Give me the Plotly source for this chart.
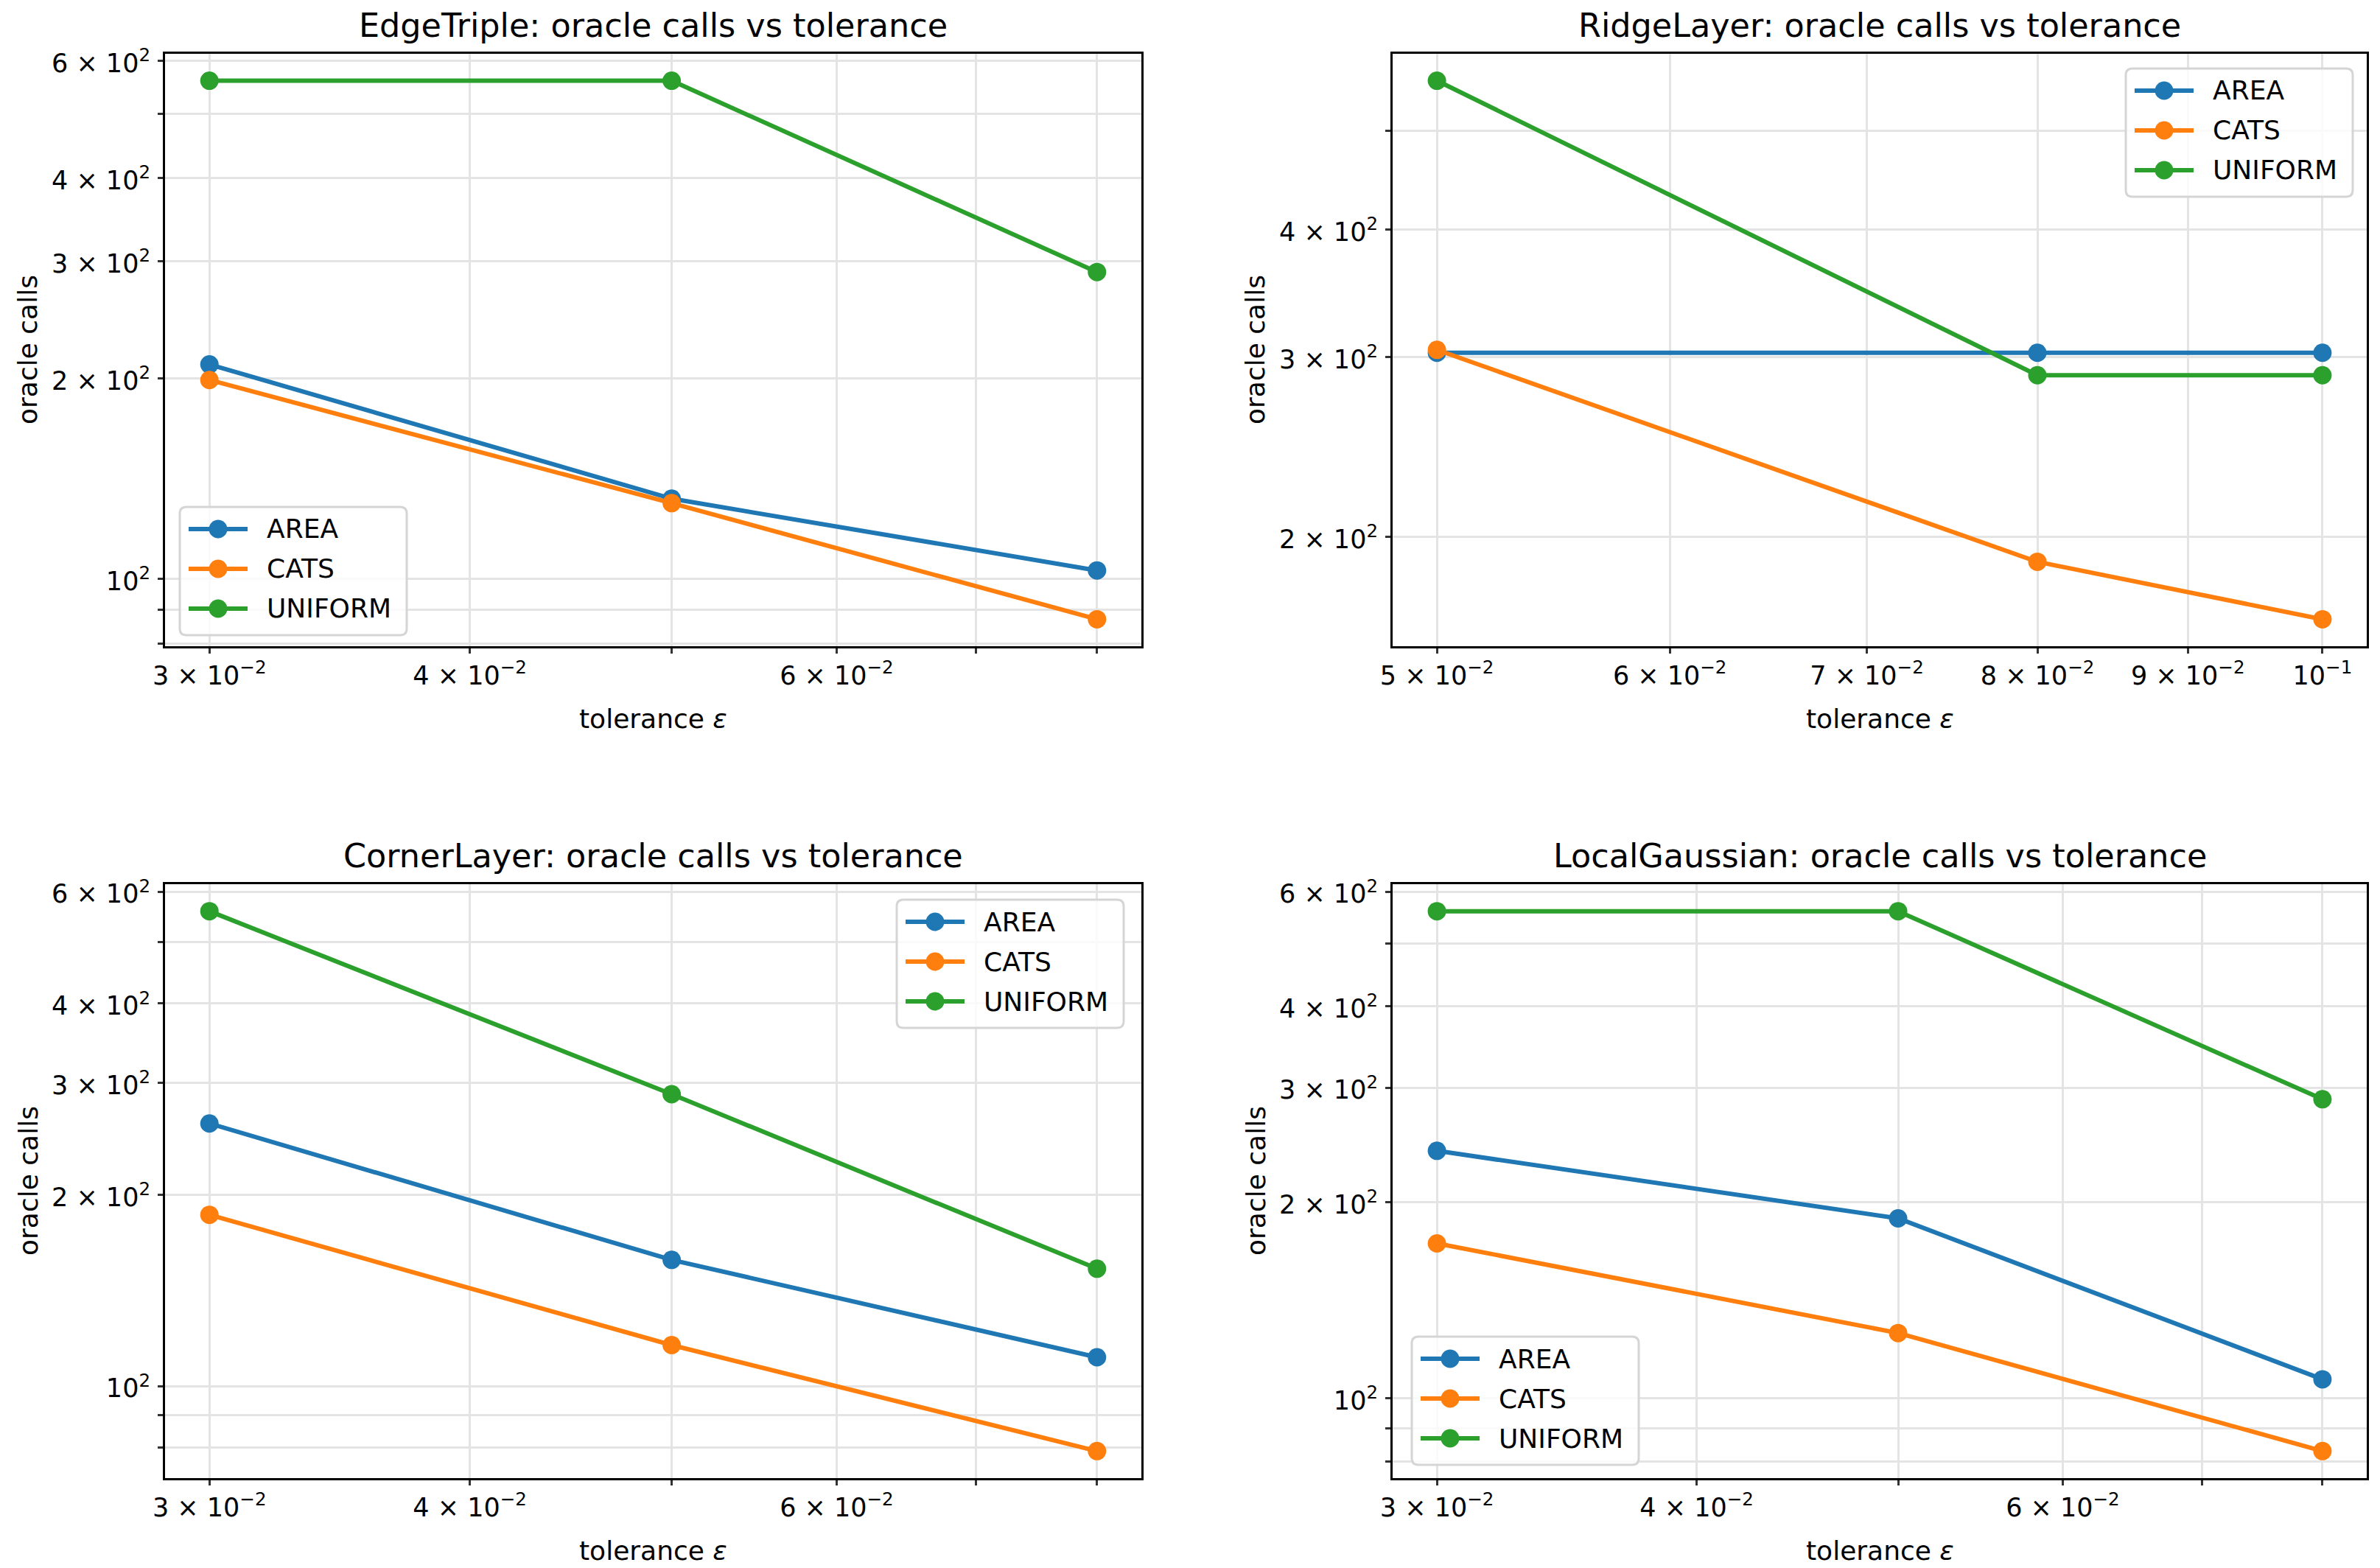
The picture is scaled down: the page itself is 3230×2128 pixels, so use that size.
import plotly.graph_objects as go
import numpy as np

W, H = 3230, 2128

# ---------------- data ----------------
series_names = ["AREA", "CATS", "UNIFORM"]
series_colors = ["#1f77b4", "#ff7f0e", "#2ca02c"]

titles = [
    "EdgeTriple: oracle calls vs tolerance",
    "RidgeLayer: oracle calls vs tolerance",
    "CornerLayer: oracle calls vs tolerance",
    "LocalGaussian: oracle calls vs tolerance",
]

edge_eps = [0.03, 0.05, 0.08]
edge_area = [210, 132, 103]
edge_cats = [199, 130, 87]
edge_uniform = [560, 560, 289]

ridge_eps = [0.05, 0.08, 0.10]
ridge_area = [303, 303, 303]
ridge_cats = [305, 189, 166]
ridge_uniform = [560, 288, 288]

corner_eps = [0.03, 0.05, 0.08]
corner_area = [259, 158, 111]
corner_cats = [186, 116, 79]
corner_uniform = [559, 288, 153]

gauss_eps = [0.03, 0.05, 0.08]
gauss_area = [240, 189, 107]
gauss_cats = [173, 126, 83]
gauss_uniform = [560, 560, 288]

# tick values / labels (labelled ticks) and unlabelled minor ticks
xt_small_vals = [0.03, 0.04, 0.06]
xt_small_text = ["3 × 10<sup>−2</sup>", "4 × 10<sup>−2</sup>", "6 × 10<sup>−2</sup>"]
xt_small_minor = [0.05, 0.07, 0.08]
xt_ridge_vals = [0.05, 0.06, 0.07, 0.08, 0.09, 0.10]
xt_ridge_text = ["5 × 10<sup>−2</sup>", "6 × 10<sup>−2</sup>", "7 × 10<sup>−2</sup>",
                 "8 × 10<sup>−2</sup>", "9 × 10<sup>−2</sup>", "10<sup>−1</sup>"]
xt_ridge_minor = []
yt_full_vals = [100, 200, 300, 400, 600]
yt_full_text = ["10<sup>2</sup>", "2 × 10<sup>2</sup>", "3 × 10<sup>2</sup>",
                "4 × 10<sup>2</sup>", "6 × 10<sup>2</sup>"]
yt_full_minor = [80, 90, 500]
yt_ridge_vals = [200, 300, 400]
yt_ridge_text = ["2 × 10<sup>2</sup>", "3 × 10<sup>2</sup>", "4 × 10<sup>2</sup>"]
yt_ridge_minor = [500]

panels = [
    dict(eps=edge_eps, ys=[edge_area, edge_cats, edge_uniform],
         xt=(xt_small_vals, xt_small_text, xt_small_minor),
         yt=(yt_full_vals, yt_full_text, yt_full_minor),
         box=(224, 1549, 73, 877), leg=(244, 688)),
    dict(eps=ridge_eps, ys=[ridge_area, ridge_cats, ridge_uniform],
         xt=(xt_ridge_vals, xt_ridge_text, xt_ridge_minor),
         yt=(yt_ridge_vals, yt_ridge_text, yt_ridge_minor),
         box=(1890, 3212, 73, 877), leg=(2885, 93)),
    dict(eps=corner_eps, ys=[corner_area, corner_cats, corner_uniform],
         xt=(xt_small_vals, xt_small_text, xt_small_minor),
         yt=(yt_full_vals, yt_full_text, yt_full_minor),
         box=(224, 1549, 1200, 2006), leg=(1217, 1221)),
    dict(eps=gauss_eps, ys=[gauss_area, gauss_cats, gauss_uniform],
         xt=(xt_small_vals, xt_small_text, xt_small_minor),
         yt=(yt_full_vals, yt_full_text, yt_full_minor),
         box=(1890, 3212, 1200, 2006), leg=(1916, 1814)),
]

FONT = "DejaVu Sans"
TICK_FS = 35
LABEL_FS = 36
TITLE_FS = 44.5
LEG_FS = 36
LINE_W = 6
MARK = 25

fig = go.Figure()
annotations = []
shapes = []
layout_extra = {}


def px_x(p):
    return p / W


def px_y(p):
    return 1 - p / H


def log_range(vals):
    lo, hi = np.log10(min(vals)), np.log10(max(vals))
    m = (hi - lo) * 0.05
    return [lo - m, hi + m]


def add_legend(left, top):
    lw, lh, r = 308, 174, 9
    x0, x1 = px_x(left), px_x(left + lw)
    yT, yB = px_y(top), px_y(top + lh)
    rx, ry = r / W, r / H
    path = (f"M{x0+rx},{yT} L{x1-rx},{yT} Q{x1},{yT} {x1},{yT-ry} L{x1},{yB+ry} "
            f"Q{x1},{yB} {x1-rx},{yB} L{x0+rx},{yB} Q{x0},{yB} {x0},{yB+ry} "
            f"L{x0},{yT-ry} Q{x0},{yT} {x0+rx},{yT} Z")
    shapes.append(dict(type="path", path=path, xref="paper", yref="paper",
                       fillcolor="rgba(255,255,255,0.8)",
                       line=dict(color="#d5d5d5", width=3), layer="above"))
    for k, (name, col) in enumerate(zip(series_names, series_colors)):
        cy = top + 30 + 54 * k
        shapes.append(dict(type="line", xref="paper", yref="paper",
                           x0=px_x(left + 12), x1=px_x(left + 92), y0=px_y(cy), y1=px_y(cy),
                           line=dict(color=col, width=LINE_W), layer="above"))
        rr = MARK / 2
        shapes.append(dict(type="circle", xref="paper", yref="paper",
                           x0=px_x(left + 52 - rr), x1=px_x(left + 52 + rr),
                           y0=px_y(cy + rr), y1=px_y(cy - rr),
                           fillcolor=col, line=dict(width=0), layer="above"))
        annotations.append(dict(text=name, x=px_x(left + 116), y=px_y(cy),
                                xref="paper", yref="paper", xanchor="left", yanchor="middle",
                                showarrow=False,
                                font=dict(family=FONT, size=LEG_FS, color="black")))


for i, p in enumerate(panels):
    n = i + 1
    xa = "x" if n == 1 else f"x{n}"
    ya = "y" if n == 1 else f"y{n}"
    for name, col, yv in zip(series_names, series_colors, p["ys"]):
        fig.add_trace(go.Scatter(
            x=p["eps"], y=yv, name=name, mode="lines+markers",
            line=dict(color=col, width=LINE_W),
            marker=dict(color=col, size=MARK),
            xaxis=xa, yaxis=ya, showlegend=False,
        ))
    L, R, T, B = p["box"]
    xdom = [L / W, R / W]
    ydom = [1 - B / H, 1 - T / H]
    allv = [v for s in p["ys"] for v in s]
    common = dict(
        type="log", showline=True, mirror=True, linecolor="black", linewidth=3,
        ticks="outside", ticklen=7, tickwidth=3, tickcolor="#333333",
        showgrid=True, gridcolor="#e4e4e4", gridwidth=3, zeroline=False,
        tickfont=dict(family=FONT, size=TICK_FS, color="black"),
        tickmode="array", automargin=False,
    )
    xv, xtxt, xmin = p["xt"]
    yv_, ytxt, ymin = p["yt"]
    layout_extra["xaxis" if n == 1 else f"xaxis{n}"] = dict(
        common, domain=xdom, anchor=ya, range=log_range(p["eps"]),
        tickvals=xv, ticktext=xtxt, ticklabelstandoff=0,
        minor=dict(tickmode="array", tickvals=xmin, ticks="outside", ticklen=7, tickwidth=3,
                   tickcolor="#333333", showgrid=True, gridcolor="#e4e4e4", gridwidth=3),
    )
    layout_extra["yaxis" if n == 1 else f"yaxis{n}"] = dict(
        common, domain=ydom, anchor=xa, range=log_range(allv),
        tickvals=yv_, ticktext=ytxt, ticklabelstandoff=3, ticklabelshift=3,
        minor=dict(tickmode="array", tickvals=ymin, ticks="outside", ticklen=7, tickwidth=3,
                   tickcolor="#333333", showgrid=True, gridcolor="#e4e4e4", gridwidth=3),
    )
    add_legend(*p["leg"])
    cx = (L + R) / 2 / W
    annotations.append(dict(text=titles[i], x=cx, y=px_y(T - 38.5), xref="paper", yref="paper",
                            xanchor="center", yanchor="middle", showarrow=False,
                            font=dict(family=FONT, size=TITLE_FS, color="black")))
    annotations.append(dict(text="tolerance <i>ε</i>", x=cx, y=px_y(B + 98), xref="paper", yref="paper",
                            xanchor="center", yanchor="middle", showarrow=False,
                            font=dict(family=FONT, size=LABEL_FS, color="black")))
    annotations.append(dict(text="oracle calls", x=px_x(L - 186), y=px_y((T + B) / 2),
                            xref="paper", yref="paper", xanchor="center", yanchor="middle",
                            textangle=-90, showarrow=False,
                            font=dict(family=FONT, size=LABEL_FS, color="black")))

fig.update_layout(
    width=W, height=H, margin=dict(l=0, r=0, t=0, b=0, pad=0, autoexpand=False),
    paper_bgcolor="white", plot_bgcolor="white",
    font=dict(family=FONT, color="black"),
    annotations=annotations, shapes=shapes, showlegend=False,
    **layout_extra,
)

fig.write_html("out.html")
